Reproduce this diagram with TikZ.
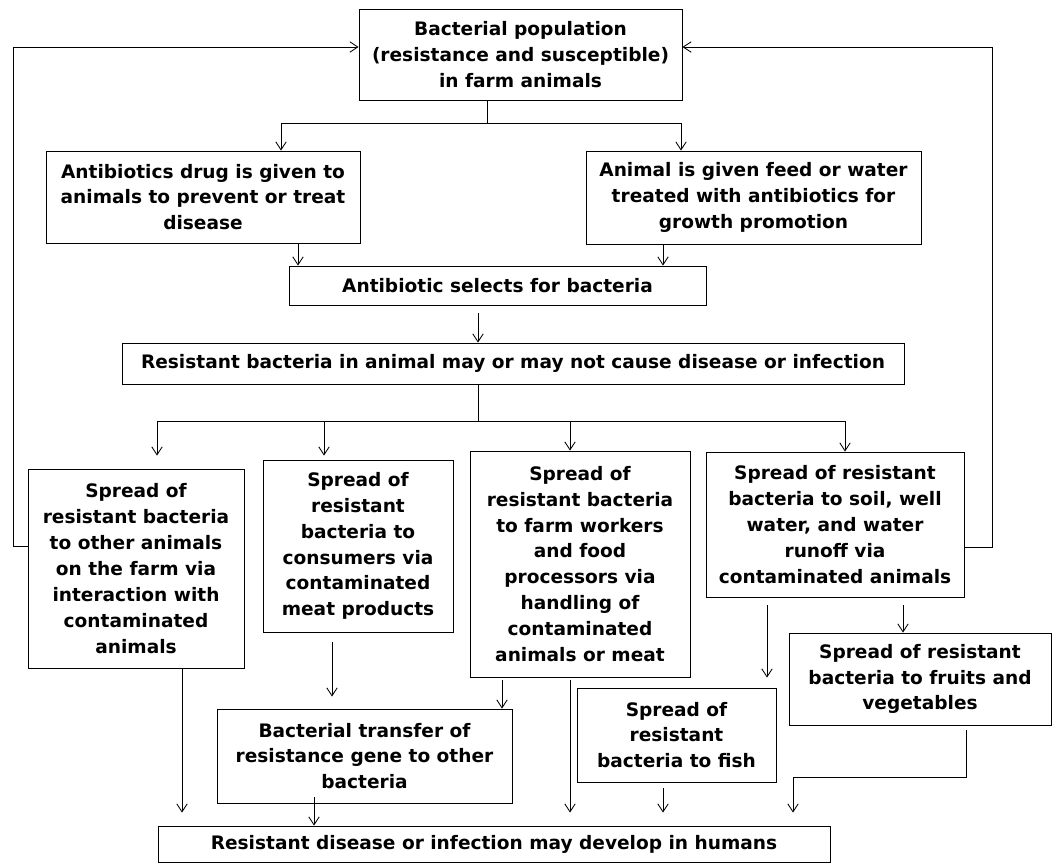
\documentclass[tikz,border=0pt]{standalone}
\usepackage{fontspec}
\setmainfont{DejaVu Sans}
\usepackage{tikz}
\usetikzlibrary{arrows.meta}

\newdimen\pxu
\pxu=0.025cm

\tikzset{
  box/.style={draw, line width=0.6pt, align=center, inner sep=0pt,
    font=\fontsize{13.2}{18.4}\selectfont\bfseries},
  link/.style={line width=0.6pt, -{Straight Barb[length=2mm,width=2.6mm]}},
  wire/.style={line width=0.6pt}
}

\begin{document}
\begin{tikzpicture}[x=0.025cm, y=-0.025cm]

  \useasboundingbox (0,0) rectangle (1052,864);

  % Top of the chain
  \node[box, minimum width=323\pxu, minimum height=91\pxu] (pop) at (520.5,54.5)
    {Bacterial population\\(resistance and susceptible)\\in farm animals};
  \node[box, minimum width=314\pxu, minimum height=92\pxu] (drug) at (203,197)
    {Antibiotics drug is given to\\animals to prevent or treat\\disease};
  \node[box, minimum width=335\pxu, minimum height=93\pxu] (feed) at (753.5,197.5)
    {Animal is given feed or water\\treated with antibiotics for\\growth promotion};
  \node[box, minimum width=417\pxu, minimum height=39\pxu] (select) at (497.5,285.5)
    {Antibiotic selects for bacteria};
  \node[box, minimum width=782\pxu, minimum height=41\pxu] (resist) at (513,363.5)
    {Resistant bacteria in animal may or may not cause disease or infection};

  % Ways of spread
  \node[box, minimum width=216\pxu, minimum height=199\pxu] (animals) at (136,568.5)
    {Spread of\\resistant bacteria\\to other animals\\on the farm via\\interaction with\\contaminated\\animals};
  \node[box, minimum width=190\pxu, minimum height=172\pxu] (consumers) at (358,546)
    {Spread of\\resistant\\bacteria to\\consumers via\\contaminated\\meat products};
  \node[box, minimum width=220\pxu, minimum height=226\pxu] (workers) at (580,564)
    {Spread of\\resistant bacteria\\to farm workers\\and food\\processors via\\handling of\\contaminated\\animals or meat};
  \node[box, minimum width=258\pxu, minimum height=145\pxu] (soil) at (835,524.5)
    {Spread of resistant\\bacteria to soil, well\\water, and water\\runoff via\\contaminated animals};

  % Lower row
  \node[box, minimum width=295\pxu, minimum height=94\pxu] (transfer) at (364.5,756)
    {Bacterial transfer of\\resistance gene to other\\bacteria};
  \node[box, minimum width=199\pxu, minimum height=94\pxu] (fish) at (676.5,735)
    {Spread of\\resistant\\bacteria to fish};
  \node[box, minimum width=262\pxu, minimum height=92\pxu] (fruits) at (920,679)
    {Spread of resistant\\bacteria to fruits and\\vegetables};
  \node[box, minimum width=672\pxu, minimum height=36\pxu] (humans) at (494,844)
    {Resistant disease or infection may develop in humans};

  % Branch below the population box
  \coordinate (j1) at (487,123);
  \draw[wire] (j1 |- pop.south) -- (j1);
  \draw[link] (j1) -| (drug.north -| 281,0);
  \draw[link] (j1) -| (feed.north -| 681,0);

  \draw[link] (drug.south -| 298,0) -- (select.north -| 298,0);
  \draw[link] (feed.south -| 663,0) -- (select.north -| 663,0);
  \draw[link] ([yshift=-8\pxu]select.south -| 478,0) -- (resist.north -| 478,0);

  % Four ways down
  \coordinate (j2) at (478,421);
  \draw[wire] (j2 |- resist.south) -- (j2);
  \draw[link] (j2) -| ([yshift=13\pxu]animals.north -| 157,0);
  \draw[link] (j2) -| ([yshift=4\pxu]consumers.north -| 324,0);
  \draw[link] (j2) -| (workers.north -| 570,0);
  \draw[link] (j2) -| (soil.north -| 845,0);

  % Feedback to the population
  \draw[link] (animals.west |- 0,546) -| (13,47) -- (pop.west |- 0,47);
  \draw[link] (soil.east |- 0,547) -| (992,47) -- (pop.east |- 0,47);

  % Into the lower row
  \draw[link] ([yshift=-10\pxu]consumers.south -| 332,0) -- ([yshift=12\pxu]transfer.north -| 332,0);
  \draw[link] ([yshift=-3\pxu]workers.south -| 502,0) -- (transfer.north -| 502,0);
  \draw[link] ([yshift=-8\pxu]soil.south -| 767,0) -- ([yshift=10\pxu]fish.north -| 767,0);
  \draw[link] ([yshift=-8\pxu]soil.south -| 903,0) -- (fruits.north -| 903,0);

  % Into the humans box
  \draw[link] (animals.south -| 182,0) -- ([yshift=13\pxu]humans.north -| 182,0);
  \draw[link] ([yshift=6\pxu]transfer.south -| 314,0) -- (humans.north -| 314,0);
  \draw[link] ([yshift=-3\pxu]workers.south -| 570,0) -- ([yshift=13\pxu]humans.north -| 570,0);
  \draw[link] ([yshift=-6\pxu]fish.south -| 663,0) -- ([yshift=13\pxu]humans.north -| 663,0);
  \draw[link] ([yshift=-5\pxu]fruits.south -| 966,0) -- (966,777) -| ([yshift=13\pxu]humans.north -| 793,0);

\end{tikzpicture}
\end{document}
